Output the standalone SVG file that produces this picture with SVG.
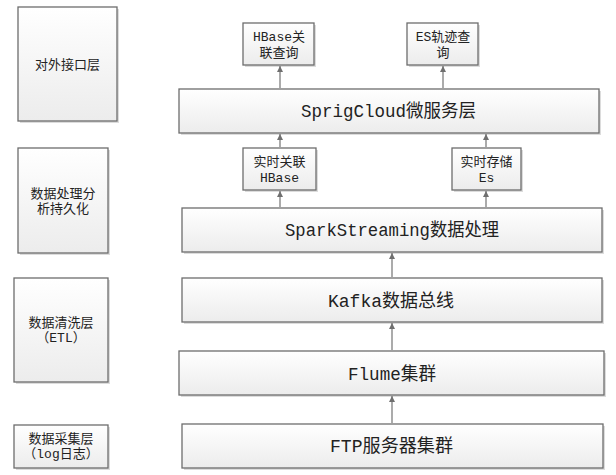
<svg xmlns="http://www.w3.org/2000/svg" width="616" height="475" viewBox="0 0 616 475">
<defs>
<linearGradient id="g" x1="0" y1="0" x2="0" y2="1">
<stop offset="0" stop-color="#ffffff"/>
<stop offset="1" stop-color="#ececec"/>
</linearGradient>
<marker id="ah" viewBox="0 0 10 10" refX="10" refY="5" markerWidth="6" markerHeight="6" markerUnits="userSpaceOnUse" orient="auto">
<path d="M0,0 L10,5 L0,10 z" fill="#6f6f6f"/>
</marker>
</defs>
<style>
.box{fill:url(#g);stroke:#6d6d6d;stroke-width:1.3}
.sh{fill:#dcdcdc}
.t{font-family:"Liberation Mono","Noto Sans CJK SC",monospace;fill:#222;text-anchor:middle}
.big{font-size:18px}
.sm{font-size:13px}
.c{stroke:#737373;stroke-width:1.2;fill:none;marker-end:url(#ah)}
</style>
<rect width="616" height="475" fill="#fff"/>

<g id="layer-api">
<rect class="sh" x="20" y="9" width="99" height="114"/>
<rect class="box" x="18" y="7" width="99" height="114"/>
<text class="t sm" x="67.5" y="69">对外接口层</text>
</g>
<g id="layer-process">
<rect class="sh" x="20" y="150" width="90" height="105"/>
<rect class="box" x="18" y="148" width="90" height="105"/>
<text class="t sm" x="63" y="198">数据处理分</text>
<text class="t sm" x="63" y="213">析持久化</text>
</g>
<g id="layer-etl">
<rect class="sh" x="16" y="280" width="94" height="104"/>
<rect class="box" x="14" y="278" width="94" height="104"/>
<text class="t sm" x="61" y="327">数据清洗层</text>
<text class="t sm" x="61" y="342">（ETL）</text>
</g>
<g id="layer-collect">
<rect class="sh" x="16" y="427" width="94" height="43"/>
<rect class="box" x="14" y="425" width="94" height="43"/>
<text class="t sm" x="61" y="443">数据采集层</text>
<text class="t sm" x="61" y="458">（log日志）</text>
</g>

<g id="hbase-query">
<rect class="sh" x="245" y="25" width="71" height="42"/>
<rect class="box" x="243" y="23" width="71" height="42"/>
<text class="t sm" x="279" y="41">HBase关</text>
<text class="t sm" x="279" y="57">联查询</text>
</g>
<g id="es-query">
<rect class="sh" x="409" y="25" width="71" height="42"/>
<rect class="box" x="407" y="23" width="71" height="42"/>
<text class="t sm" x="443" y="41">ES轨迹查</text>
<text class="t sm" x="443" y="57">询</text>
</g>
<g id="springcloud">
<rect class="sh" x="181" y="91" width="420" height="44"/>
<rect class="box" x="179" y="89" width="420" height="44"/>
<text class="t big" x="388.5" y="117" textLength="175" lengthAdjust="spacingAndGlyphs">SprigCloud微服务层</text>
</g>
<g id="rt-hbase">
<rect class="sh" x="245" y="150" width="73" height="42"/>
<rect class="box" x="243" y="148" width="73" height="42"/>
<text class="t sm" x="279.5" y="166">实时关联</text>
<text class="t sm" x="279.5" y="182">HBase</text>
</g>
<g id="rt-es">
<rect class="sh" x="454" y="150" width="69" height="42"/>
<rect class="box" x="452" y="148" width="69" height="42"/>
<text class="t sm" x="486.5" y="166">实时存储</text>
<text class="t sm" x="486.5" y="182">Es</text>
</g>
<g id="spark">
<rect class="sh" x="184" y="210" width="420" height="44"/>
<rect class="box" x="182" y="208" width="420" height="44"/>
<text class="t big" x="392" y="236" textLength="214" lengthAdjust="spacingAndGlyphs">SparkStreaming数据处理</text>
</g>
<g id="kafka">
<rect class="sh" x="184" y="280" width="420" height="44"/>
<rect class="box" x="182" y="278" width="420" height="44"/>
<text class="t big" x="391" y="307" textLength="126" lengthAdjust="spacingAndGlyphs">Kafka数据总线</text>
</g>
<g id="flume">
<rect class="sh" x="181" y="353" width="425" height="44"/>
<rect class="box" x="179" y="351" width="425" height="44"/>
<text class="t big" x="392" y="380" textLength="88" lengthAdjust="spacingAndGlyphs">Flume集群</text>
</g>
<g id="ftp">
<rect class="sh" x="184" y="426" width="421" height="44"/>
<rect class="box" x="182" y="424" width="421" height="44"/>
<text class="t big" x="391.5" y="452" textLength="123" lengthAdjust="spacingAndGlyphs">FTP服务器集群</text>
</g>

<g id="connectors">
<line class="c" x1="280" y1="88" x2="280" y2="66"/>
<line class="c" x1="443" y1="88" x2="443" y2="66"/>
<line class="c" x1="280" y1="147" x2="280" y2="134"/>
<line class="c" x1="486" y1="147" x2="486" y2="134"/>
<line class="c" x1="280" y1="207" x2="280" y2="191"/>
<line class="c" x1="486" y1="207" x2="486" y2="191"/>
<line class="c" x1="392" y1="277" x2="392" y2="253"/>
<line class="c" x1="392" y1="350" x2="392" y2="323"/>
<line class="c" x1="392" y1="423" x2="392" y2="396"/>
</g>
</svg>
